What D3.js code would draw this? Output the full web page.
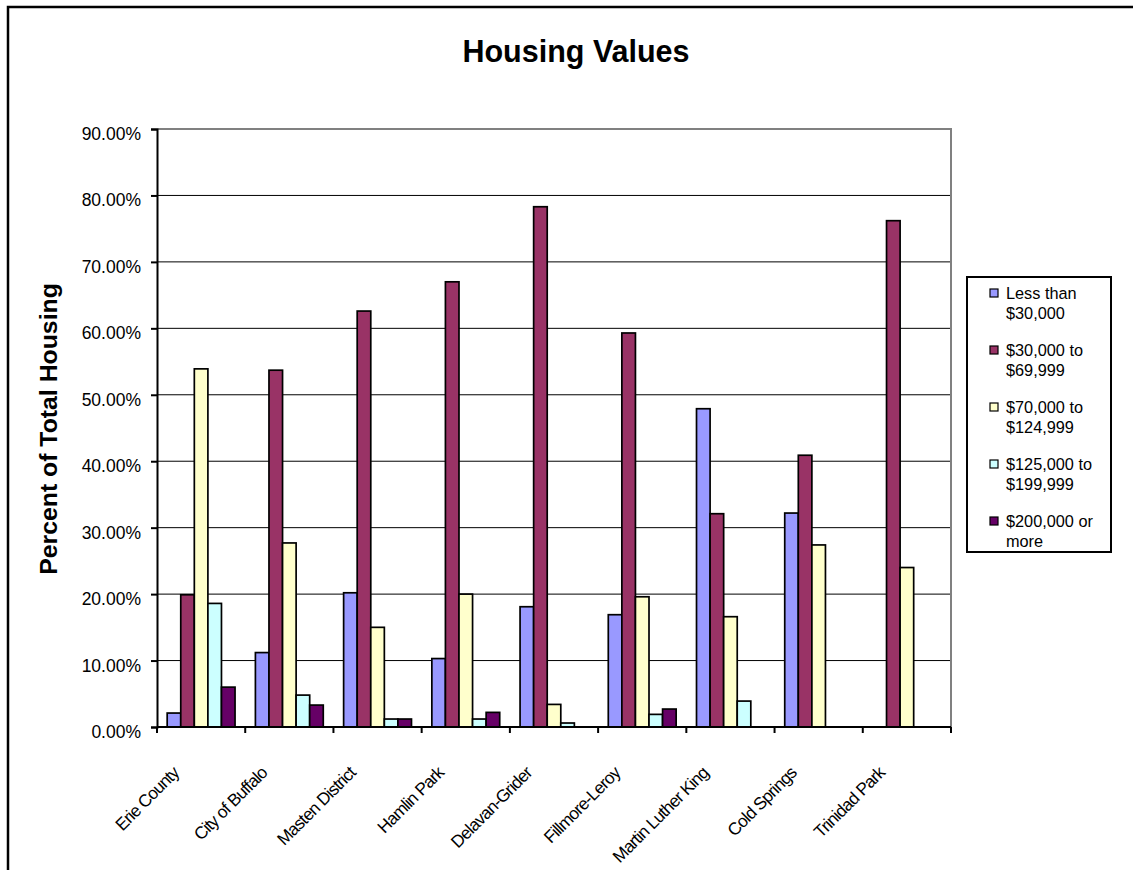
<!DOCTYPE html>
<html>
<head>
<meta charset="utf-8">
<script src="https://cdn.jsdelivr.net/npm/d3@7"></script>
<style>
  body { margin: 0; background: #fff; }
  svg { display: block; font-family: Arial, "Liberation Sans", sans-serif; }
</style>
</head>
<body>
<svg id="chart" width="1133" height="870"></svg>
<script>
// values, in percent
const categories = ["Erie County", "City of Buffalo", "Masten District", "Hamlin Park",
  "Delavan-Grider", "Fillmore-Leroy", "Martin Luther King", "Cold Springs", "Trinidad Park"];
const lessThan30k   = [2.1, 11.2, 20.2, 10.3, 18.1, 16.9, 47.9, 32.2, 0];
const from30to70k   = [19.9, 53.7, 62.6, 67.0, 78.3, 59.3, 32.1, 40.9, 76.2];
const from70to125k  = [53.9, 27.7, 15.0, 20.0, 3.4, 19.6, 16.6, 27.4, 24.0];
const from125to200k = [18.6, 4.8, 1.2, 1.2, 0.6, 1.9, 3.9, 0, 0];
const over200k      = [6.0, 3.3, 1.2, 2.2, 0, 2.7, 0, 0, 0];
const seriesNames = [["Less than", "$30,000"], ["$30,000 to", "$69,999"], ["$70,000 to", "$124,999"],
  ["$125,000 to", "$199,999"], ["$200,000 or", "more"]];
const yTicks = [0, 10, 20, 30, 40, 50, 60, 70, 80, 90];

const series = [lessThan30k, from30to70k, from70to125k, from125to200k, over200k];
const colours = ["#9999FF", "#993366", "#FFFFCC", "#CCFFFF", "#660066"];

const svg = d3.select("#chart");
const plot = { left: 157, right: 951, top: 129, bottom: 727 };

// outer chart frame (runs off the right and bottom edges)
svg.append("rect")
  .attr("x", 8).attr("y", 7).attr("width", 1200).attr("height", 1000)
  .attr("fill", "none").attr("stroke", "#000").attr("stroke-width", 2.5);

svg.append("text")
  .attr("x", 576).attr("y", 62)
  .attr("text-anchor", "middle")
  .attr("font-size", 30.5).attr("font-weight", "bold")
  .text("Housing Values");

const x = d3.scaleBand().domain(categories).range([plot.left, plot.right]);
const xInner = d3.scaleBand().domain(d3.range(series.length))
  .range([0, x.step()]).paddingInner(0).paddingOuter(0.75);
const y = d3.scaleLinear().domain([0, 90]).range([plot.bottom, plot.top]);

// gridlines
svg.append("g").selectAll("line")
  .data(yTicks.filter(d => d > 0 && d < 90))
  .join("line")
  .attr("x1", plot.left).attr("x2", plot.right)
  .attr("y1", d => y(d)).attr("y2", d => y(d))
  .attr("stroke", "#000").attr("stroke-width", 1);

// plot area border (grey top/right)
svg.append("path")
  .attr("d", `M${plot.left},${plot.top}H${plot.right}V${plot.bottom}`)
  .attr("fill", "none").attr("stroke", "#808080").attr("stroke-width", 2);

// bars
series.forEach((vals, si) => {
  svg.append("g").selectAll("rect")
    .data(vals.map((v, i) => ({ cat: categories[i], v })).filter(d => d.v > 0))
    .join("rect")
    .attr("x", d => x(d.cat) + xInner(si))
    .attr("y", d => y(d.v))
    .attr("width", xInner.bandwidth())
    .attr("height", d => y(0) - y(d.v))
    .attr("fill", colours[si])
    .attr("stroke", "#000").attr("stroke-width", 1.7);
});

// y axis
const yAxis = svg.append("g")
  .attr("transform", `translate(${plot.left},0)`)
  .call(d3.axisLeft(y).tickValues(yTicks).tickSize(6).tickPadding(10)
    .tickFormat(d => d3.format(".2f")(d) + "%"));
yAxis.select(".domain").attr("stroke", "#000").attr("stroke-width", 2);
yAxis.selectAll(".tick line").attr("stroke", "#000").attr("stroke-width", 2);
yAxis.selectAll(".tick text")
  .attr("font-size", 17.5).attr("font-family", "Arial, 'Liberation Sans', sans-serif")
  .attr("fill", "#000").attr("dy", "0.6em");

// x axis: ticks at category boundaries
const boundaries = d3.range(categories.length + 1).map(i => plot.left + i * x.step());
svg.append("line")
  .attr("x1", plot.left).attr("x2", plot.right)
  .attr("y1", plot.bottom).attr("y2", plot.bottom)
  .attr("stroke", "#000").attr("stroke-width", 2);
svg.append("g").selectAll("line")
  .data(boundaries)
  .join("line")
  .attr("x1", d => d).attr("x2", d => d)
  .attr("y1", plot.bottom).attr("y2", plot.bottom + 6)
  .attr("stroke", "#000").attr("stroke-width", 2);

svg.append("g").selectAll("text")
  .data(categories)
  .join("text")
  .attr("transform", d => `translate(${x(d) + x.bandwidth() / 2 - 21},774) rotate(-45)`)
  .attr("text-anchor", "end")
  .attr("font-size", 17.3).attr("letter-spacing", -0.8)
  .text(d => d);

// y axis title
svg.append("text")
  .attr("transform", "translate(57,429) rotate(-90)")
  .attr("text-anchor", "middle")
  .attr("font-size", 24.8).attr("font-weight", "bold")
  .text("Percent of Total Housing");

// legend
const legend = svg.append("g");
legend.append("rect")
  .attr("x", 967).attr("y", 277).attr("width", 144).attr("height", 275)
  .attr("fill", "#fff").attr("stroke", "#000").attr("stroke-width", 2);
seriesNames.forEach((lines, i) => {
  const by = 299 + i * 57;
  legend.append("rect")
    .attr("x", 990).attr("y", by - 10).attr("width", 8).attr("height", 8)
    .attr("fill", colours[i]).attr("stroke", "#000").attr("stroke-width", 1.2);
  legend.append("text")
    .attr("x", 1006).attr("y", by)
    .attr("font-size", 16.3)
    .selectAll("tspan")
    .data(lines)
    .join("tspan")
    .attr("x", 1006)
    .attr("dy", (d, j) => j === 0 ? 0 : 20)
    .text(d => d);
});
</script>
</body>
</html>
